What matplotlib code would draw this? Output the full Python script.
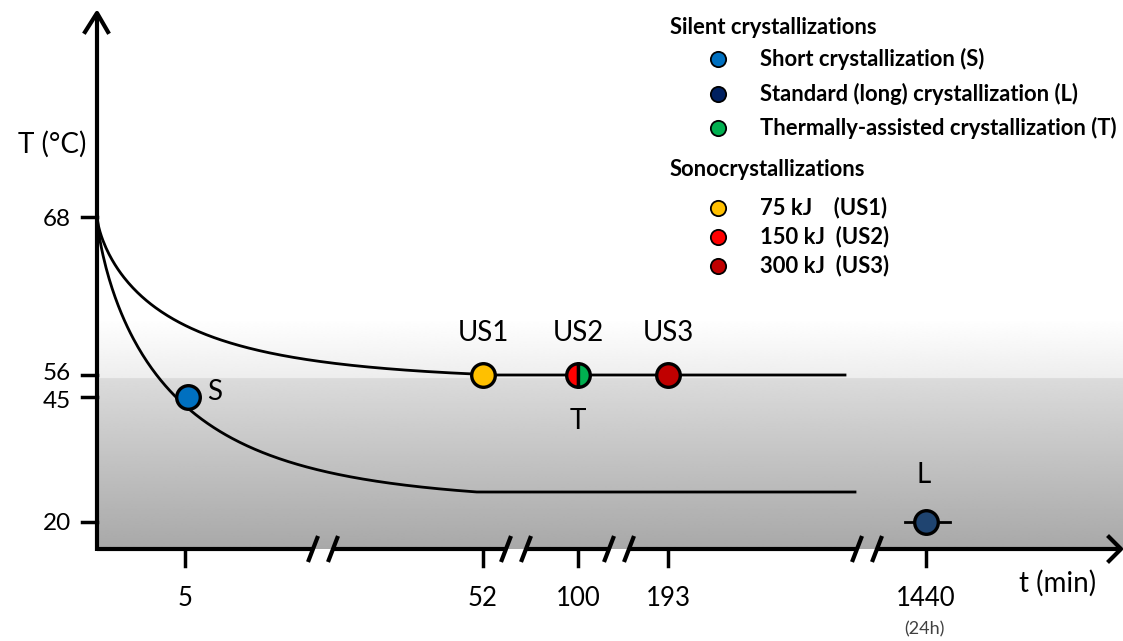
import numpy as np
import matplotlib.pyplot as plt

plt.rcParams['font.family'] = ['Lato', 'DejaVu Sans']

# temperature ticks (°C) and time ticks (min)
T_ticks = [68, 56, 45, 20]
t_ticks = [5, 52, 100, 193, 1440]
t_tick_labels = ['5', '52', '100', '193', '1440']

# runs: label, time (min), temperature (°C), colour
runs = ['S', 'US1', 'US2', 'US3', 'L']
run_t = [5, 52, 100, 193, 1440]
run_T = [45, 56, 56, 56, 20]
run_col = ['#0070C0', '#FFC000', '#FF0000', '#C00000', '#1F4470']
T_green = '#00B050'

# cooling profiles: start temperature, plateau temperature
T_start = 68
T_plateau_upper = 56
T_plateau_lower = 26

# legend
leg_silent = ['Short crystallization (S)', 'Standard (long) crystallization (L)',
              'Thermally-assisted crystallization (T)']
leg_silent_col = ['#0070C0', '#002060', '#00B050']
leg_sono = ['75 kJ    (US1)', '150 kJ  (US2)', '300 kJ  (US3)']
leg_sono_col = ['#FFC000', '#FF0000', '#C00000']

# broken, schematic axes: value -> position on the sheet
T_pos_ref = [217, 375, 397, 522]
t_val_ref = [0, 5, 52, 100, 193, 1440]
t_pos_ref = [97, 185, 483, 578, 668, 926]


def ypos(T):
    return np.interp(-np.asarray(T, float), -np.asarray(T_ticks, float), T_pos_ref)


def xpos(t):
    return np.interp(t, t_val_ref, t_pos_ref)


def decay(u, k, p, u_end):
    # stretched exponential that lands flat at u_end
    f = np.exp(-(u / k) ** p)
    f_end = np.exp(-(u_end / k) ** p)
    return np.clip((f - f_end) / (1 - f_end), 0, 1)


fig = plt.figure(figsize=(11.23, 6.41), dpi=100)
ax = fig.add_axes([0, 0, 1, 1])
ax.set_xlim(0, 1123)
ax.set_ylim(641, 0)
ax.axis('off')

x0, y_ax = 97, 549

# grey background
y_step = 378
rows = np.linspace(318, y_ax, 300)
g = np.where(rows < y_step,
             1.0 - 0.07 * (rows - 318) / (y_step - 318),
             0.86 - 0.20 * (rows - y_step) / (y_ax - y_step))
img = np.repeat(g[:, None], 2, axis=1)
ax.imshow(img, cmap='gray', vmin=0, vmax=1, extent=[x0, 1123, y_ax, 318],
          origin='upper', aspect='auto', interpolation='bilinear', zorder=0)

# cooling curves
y0 = ypos(T_start)
xs = np.linspace(x0, 845, 500)
yu = ypos(T_plateau_upper)
ax.plot(xs, yu + (y0 - yu) * decay(xs - x0, 80, 0.72, 400), color='black', lw=2, zorder=2)
xs2 = np.linspace(x0, 855, 500)
yl = ypos(T_plateau_lower)
ax.plot(xs2, yl + (y0 - yl) * decay(xs2 - x0, 80, 0.75, 380), color='black', lw=2, zorder=2)

# axes lines
lw_ax = 3
ax.plot([x0, x0], [y_ax + 1.5, 14], color='black', lw=lw_ax, solid_capstyle='butt', zorder=3)
ax.plot([85, x0, 108], [32, 13, 32], color='black', lw=lw_ax, zorder=3)
breaks = [313, 506, 609, 857]
segs = [x0] + [v for b in breaks for v in (b, b + 20)] + [1119]
for a, b in zip(segs[0::2], segs[1::2]):
    ax.plot([a, b], [y_ax, y_ax], color='black', lw=lw_ax, solid_capstyle='butt', zorder=3)
for b in breaks:
    for dx in (0, 20):
        ax.plot([b + dx - 5, b + dx + 5], [y_ax + 13, y_ax - 13], color='black', lw=lw_ax,
                solid_capstyle='butt', zorder=3)
ax.plot([1109, 1121, 1109], [537, y_ax, 561], color='black', lw=lw_ax, zorder=3)

# ticks
fs_num, fs_lab = 17.5, 20
label_dy = {56: -4, 45: 3}
for T in T_ticks:
    y = ypos(T)
    ax.plot([82, x0], [y, y], color='black', lw=2.5, zorder=3)
    ax.text(71, y + label_dy.get(T, 0), str(T), ha='right', va='center_baseline', fontsize=fs_num)
for t, lab in zip(t_ticks, t_tick_labels):
    x = xpos(t)
    ax.plot([x, x], [y_ax, 566], color='black', lw=2.5, zorder=3)
    ax.text(x, 598, lab, ha='center', va='center', fontsize=fs_num + 1)
ax.text(xpos(1440) - 2, 629, '(24h)', ha='center', va='center', fontsize=13, color='#404040')
ax.text(52, 144, 'T (°C)', ha='center', va='center', fontsize=fs_lab)
ax.text(1058, 583, 't (min)', ha='center', va='center', fontsize=fs_lab)

# run markers
ms, mew = 17, 2.4
for r, t, T, c in zip(runs, run_t, run_T, run_col):
    x, y = xpos(t), ypos(T)
    if r == 'S':
        x += 3
    if r == 'L':
        ax.plot([x - 21, x + 24], [y, y], color='black', lw=2, zorder=3)
    if r == 'US2':
        ax.plot(x, y, marker='o', ms=ms, mew=mew, mec='black', fillstyle='left',
                markerfacecolor=c, markerfacecoloralt=T_green, ls='none', zorder=4)
        ax.plot([x, x], [y - 10, y + 10], color='black', lw=2, zorder=5)
    else:
        ax.plot(x, y, marker='o', ms=ms, mew=mew, mec='black', mfc=c, ls='none', zorder=4)

ax.text(xpos(5) + 30, ypos(45) - 5, 'S', ha='center', va='center', fontsize=fs_lab)
for r, t in zip(runs[1:4], run_t[1:4]):
    ax.text(xpos(t), 333, r, ha='center', va='center', fontsize=fs_lab)
ax.text(xpos(100), 421, 'T', ha='center', va='center', fontsize=fs_lab)
ax.text(xpos(1440) - 2, 475, 'L', ha='center', va='center', fontsize=fs_lab)

# legend
fs_leg = 15.8
ax.text(670, 28, 'Silent crystallizations', ha='left', va='center', fontsize=fs_leg, fontweight='bold')
for i, (lab, c) in enumerate(zip(leg_silent, leg_silent_col)):
    y = 59 + i * 34.5
    ax.plot(718, y, marker='o', ms=11, mew=1.3, mec='black', mfc=c, ls='none')
    ax.text(760, y, lab, ha='left', va='center', fontsize=fs_leg, fontweight='bold')
ax.text(670, 170, 'Sonocrystallizations', ha='left', va='center', fontsize=fs_leg, fontweight='bold')
for i, (lab, c) in enumerate(zip(leg_sono, leg_sono_col)):
    y = 208 + i * 29
    ax.plot(718, y, marker='o', ms=11, mew=1.3, mec='black', mfc=c, ls='none')
    ax.text(760, y, lab, ha='left', va='center', fontsize=fs_leg, fontweight='bold')

fig.savefig('out.png', dpi=100)
